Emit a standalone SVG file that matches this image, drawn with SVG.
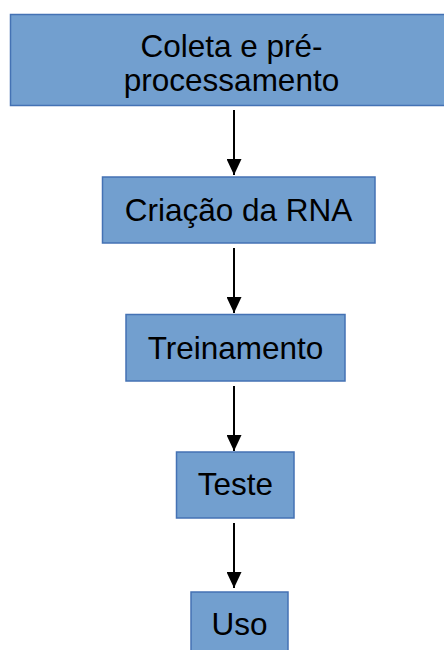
<svg xmlns="http://www.w3.org/2000/svg" width="444" height="650" viewBox="0 0 444 650">
  <style>
    .box { fill: #729fcf; stroke: #4472b4; stroke-width: 1.5; }
    .label { font-family: "Liberation Sans", Arial, sans-serif; font-size: 31.5px; fill: #000; text-anchor: middle; }
    .edge { stroke: #000; stroke-width: 2; fill: none; }
  </style>
  <defs>
    <marker id="arrow" viewBox="0 0 16 15" refX="16" refY="7.5" markerWidth="16" markerHeight="15" markerUnits="userSpaceOnUse" orient="auto">
      <path d="M0,0 L16,7.5 L0,15 Z" fill="#000"/>
    </marker>
  </defs>
  <rect width="444" height="650" fill="#fff"/>

  <g id="connectors">
    <line class="edge" x1="234" y1="110" x2="234" y2="175" marker-end="url(#arrow)"/>
    <line class="edge" x1="234" y1="248" x2="234" y2="313" marker-end="url(#arrow)"/>
    <line class="edge" x1="234" y1="386" x2="234" y2="451" marker-end="url(#arrow)"/>
    <line class="edge" x1="234" y1="523" x2="234" y2="588" marker-end="url(#arrow)"/>
  </g>

  <g id="coleta">
    <rect class="box" x="10.5" y="14.5" width="443" height="91"/>
    <text class="label" x="231.5" y="57">Coleta e pré-</text>
    <text class="label" x="231.5" y="91">processamento</text>
  </g>

  <g id="criacao">
    <rect class="box" x="102.5" y="177" width="272.5" height="66"/>
    <text class="label" x="238.5" y="221">Criação da RNA</text>
  </g>

  <g id="treinamento">
    <rect class="box" x="126" y="314.5" width="219" height="66.5"/>
    <text class="label" x="235.5" y="359">Treinamento</text>
  </g>

  <g id="teste">
    <rect class="box" x="176.5" y="452" width="117.5" height="66"/>
    <text class="label" x="235.5" y="495">Teste</text>
  </g>

  <g id="uso">
    <rect class="box" x="191" y="592" width="97" height="70"/>
    <text class="label" x="239.5" y="635">Uso</text>
  </g>
</svg>
